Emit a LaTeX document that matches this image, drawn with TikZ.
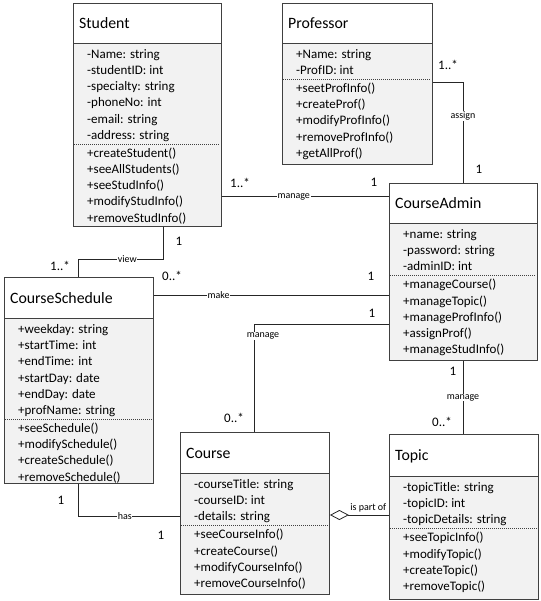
\documentclass[tikz,border=0pt]{standalone}
\usepackage{fontspec}
\setmainfont{Carlito}
\usetikzlibrary{arrows.meta,calc}
\definecolor{bodygray}{RGB}{242,242,242}
\definecolor{linegray}{RGB}{64,64,64}
\tikzset{
  classbox/.style={draw=linegray, fill=bodygray, line width=0.9pt, inner sep=0pt},
  classtitle/.style={font=\fontsize{15.8}{18}\selectfont, inner sep=0pt, anchor=base west},
  member/.style={font=\fontsize{13}{15}\selectfont, inner sep=0pt, anchor=base west},
  mult/.style={font=\fontsize{13}{15}\selectfont, inner sep=0pt},
  linelabel/.style={font=\fontsize{10}{12}\selectfont, fill=white, inner sep=0.6pt},
  assoc/.style={draw=black!85, line width=0.8pt},
}
% class box: name, x, y, width, height, header height, title, attributes, operations
\newcommand{\umlclass}[9]{%
  \node[classbox, minimum width=#4pt, minimum height=#5pt, anchor=north west] (#1) at (#2,#3) {};
  \filldraw[draw=linegray, fill=white, line width=0.9pt] (#2,#3) rectangle (#2+#4,#3+#6);
  \node[classtitle] (#1-title) at (#2+6,#3+#6/2+5.5) {#7};
  \foreach \memb [count=\i] in {#8}{%
    \node[member] (#1-a\i) at (#2+14,#3+#6+11+16.2*\i-16.2+4.4) {\memb};
    \xdef\umlcount{\i}}
  \pgfmathsetmacro\umldash{#3+#6+11+16.2*\umlcount-16.2+9}
  \draw[linegray, dash pattern=on 1pt off 1pt, line width=0.6pt] (#2+1,\umldash) -- (#2+#4-1,\umldash);
  \foreach \memb [count=\i] in {#9}{%
    \node[member] (#1-m\i) at (#2+14,\umldash+9+16.2*\i-16.2+4.4) {\memb};}
}
\begin{document}
\begin{tikzpicture}[x=1pt, y=-1pt]
\useasboundingbox (0,0) rectangle (540,601);
\umlclass{student}{73}{3}{148}{223}{40}{Student}
  {-Name: string, -studentID: int, -specialty: string, -phoneNo: int, -email: string, -address: string}
  {+createStudent(), +seeAllStudents(), +seeStudInfo(), +modifyStudInfo(), +removeStudInfo()}
\umlclass{professor}{282}{3}{150}{161}{40}{Professor}
  {+Name: string, -ProfID: int}
  {+seetProfInfo(), +createProf(), +modifyProfInfo(), +removeProfInfo(), +getAllProf()}
\umlclass{admin}{389}{183}{148}{177}{40}{CourseAdmin}
  {+name: string, -password: string, -adminID: int}
  {+manageCourse(), +manageTopic(), +manageProfInfo(), +assignProf(), +manageStudInfo()}
\umlclass{schedule}{4}{277}{149}{206}{41}{CourseSchedule}
  {+weekday: string, +startTime: int, +endTime: int, +startDay: date, +endDay: date, +profName: string}
  {+seeSchedule(), +modifySchedule(), +createSchedule(), +removeSchedule()}
\umlclass{course}{180}{432}{149}{162}{41}{Course}
  {-courseTitle: string, -courseID: int, -details: string}
  {+seeCourseInfo(), +createCourse(), +modifyCourseInfo(), +removeCourseInfo()}
\umlclass{topic}{389}{434}{149}{165}{42}{Topic}
  {-topicTitle: string, -topicID: int, -topicDetails: string}
  {+seeTopicInfo(), +modifyTopic(), +createTopic(), +removeTopic()}

% associations
\draw[assoc] ([yshift=30pt]student.south east) -- node[linelabel, pos=0.43]{manage} ([yshift=30pt]student.south east -| admin.west);
\draw[assoc] ([yshift=-79pt]professor.north east) -| node[linelabel, pos=0.67]{assign} ([xshift=74pt]admin.north west);
\draw[assoc] ([xshift=90pt]student.south west) -- ++(0,32) -| node[linelabel, pos=0.21]{view} ([xshift=74pt]schedule.north west);
\draw[assoc] ([yshift=-18pt]schedule.north east) -- node[linelabel, pos=0.275]{make} ([yshift=-18pt]schedule.north east -| admin.west);
\draw[assoc] ([xshift=74pt]course.north west) |- node[linelabel, pos=0.445, xshift=9pt]{manage} ([yshift=-141pt]admin.north west);
\draw[assoc] ([xshift=74pt]admin.south west) -- node[linelabel]{manage} ([xshift=74pt]topic.north west);
\draw[assoc] ([xshift=74pt]schedule.south west) |- node[linelabel, pos=0.73]{has} ([yshift=-84pt]course.north west);
\draw[assoc, {Diamond[open, length=19pt, width=10pt]}-] ([yshift=-83pt]course.north east) -- node[linelabel, pos=0.65, above=2pt]{is part of} ([yshift=-83pt]course.north east -| topic.west);

% multiplicities
\node[mult] (m1) at (240,183) {1..*};
\node[mult] (m2) at (374,182) {1};
\node[mult] (m3) at (448,65) {1..*};
\node[mult] (m4) at (479,169) {1};
\node[mult] (m5) at (179,241) {1};
\node[mult] (m6) at (60,266) {1..*};
\node[mult] (m7) at (172,276) {0..*};
\node[mult] (m8) at (371,276) {1};
\node[mult] (m9) at (234,418) {0..*};
\node[mult] (m10) at (372,313) {1};
\node[mult] (m11) at (453,371) {1};
\node[mult] (m12) at (442,422) {0..*};
\node[mult] (m13) at (61,500) {1};
\node[mult] (m14) at (161,535) {1};
\end{tikzpicture}
\end{document}
